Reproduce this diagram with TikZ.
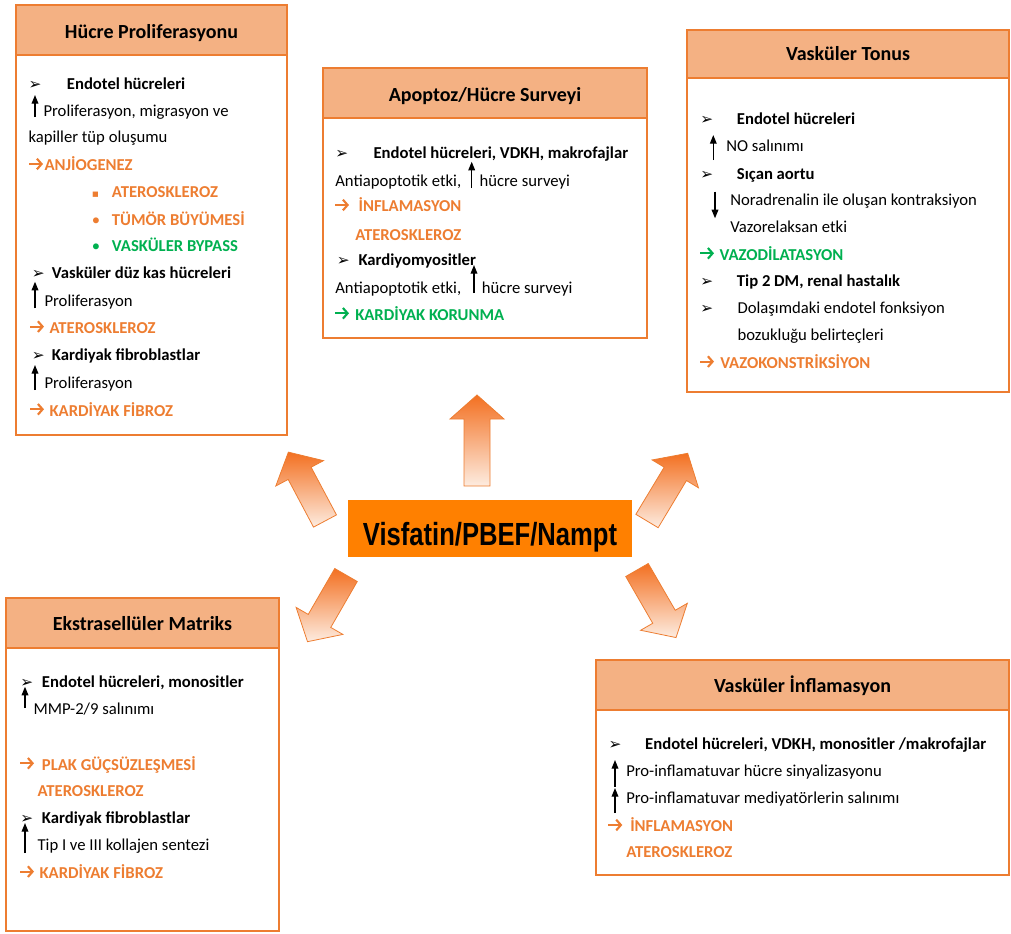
\documentclass[tikz,border=0pt]{standalone}
\usepackage{fontspec}
\usepackage{graphicx}
\setmainfont{Carlito}
\newfontfamily\dingfont{DejaVu Sans}
\newfontfamily\corefont{Liberation Sans}
\usepackage{tikz}
\usetikzlibrary{arrows.meta}

\definecolor{accorange}{RGB}{237,125,49}
\definecolor{headfill}{RGB}{244,177,131}
\definecolor{accgreen}{RGB}{0,176,80}
\definecolor{corefill}{RGB}{255,128,0}
\definecolor{arrowtop}{RGB}{243,112,33}
\definecolor{arrowbot}{RGB}{253,236,224}

\newcommand{\bodyfont}{\fontsize{12.5}{15}\selectfont}
\newcommand{\headfont}{\fontsize{15}{18}\selectfont\bfseries}
\newcommand{\arrowhd}[1]{\makebox[#1][l]{\dingfont\bfseries\fontsize{11.5}{11.5}\selectfont ➢}}
\newcommand{\sqbul}{\makebox[15pt][l]{\dingfont\fontsize{8}{8}\selectfont ▪}}
\newcommand{\dotbul}{\makebox[15pt][l]{\mdseries•}}

\tikzset{
  boxline/.style={draw=accorange, line width=1.1pt},
  headbox/.style={boxline, fill=headfill},
  boxtitle/.style={anchor=base, inner sep=0pt, font=\headfont},
  txt/.style={anchor=base west, inner sep=0pt, font=\bodyfont},
  bld/.style={txt, font=\bodyfont\bfseries},
  outcome/.style={bld, text=accorange},
  goodout/.style={bld, text=accgreen},
  thinup/.style={line width=1pt, -{Triangle[length=6.5pt,width=5pt]}},
  resarrow/.style={line width=1.6pt, -{Straight Barb[length=3.5pt,width=8pt]}},
  fatarrow/.style={draw=accorange, line width=0.6pt, top color=arrowtop, bottom color=arrowbot},
  core/.style={fill=corefill, inner sep=0pt, minimum width=213pt, text height=33.75pt, text depth=9pt,
    font=\corefont\bfseries\fontsize{24}{24}\selectfont},
}

% small marks in the boxes
\newcommand{\uparr}[3]{\draw[thinup] (#1,#2) -- (#1,#3);}
\newcommand{\resarr}[3]{\draw[resarrow, #3] (#1,#2) -- ++(14,0);}
% block arrow: tail, direction, length
\newcommand{\fatarr}[3]{%
  \begin{scope}[shift={#1}, rotate=#2]
    \draw[fatarrow] (0,-13) -- (#3-24,-13) -- (#3-24,-27) -- (#3,0) -- (#3-24,27) -- (#3-24,13) -- (0,13) -- cycle;
  \end{scope}}

\begin{document}
\begin{tikzpicture}[x=0.75pt,y=0.75pt,yscale=-1,xscale=1]
\useasboundingbox (0,0) rectangle (1011,933);

% Center
\node[core] (core) at (490,528.5) {\scalebox{0.8}[1]{Visfatin/PBEF/Nampt}};

% Block arrows
\fatarr{(477,486)}{-90}{91}
\fatarr{(325,521)}{-118}{78}
\fatarr{(647,521)}{-59}{79}
\fatarr{(346,575)}{120}{77}
\fatarr{(637,570)}{60}{78}

% Shape: Rectangle -- Hücre Proliferasyonu
\draw[boxline] (16,5) rectangle (287,435);
\draw[headbox] (16,5) rectangle (287,55);
\node[boxtitle] (hpT) at (151.5,38.3) {Hücre Proliferasyonu};
% Text Node
\draw (28.3,89.3) node[bld] (hp1) {\arrowhd{28.8pt}Endotel hücreleri};
\uparr{35}{117}{95}
\draw (43.3,116) node[txt] (hp2) {Proliferasyon, migrasyon ve};
\draw (28.3,142) node[txt] (hp3) {kapiller tüp oluşumu};
\resarr{29}{164}{accorange}
\draw (44.3,170.7) node[outcome] (hp4) {ANJİOGENEZ};
\draw (91.7,197.3) node[outcome] (hp5) {\sqbul ATEROSKLEROZ};
\draw (91.7,225) node[outcome] (hp6) {\dotbul TÜMÖR BÜYÜMESİ};
\draw (91.7,251.7) node[goodout] (hp7) {\dotbul VASKÜLER BYPASS};
\draw (31.7,278.3) node[bld] (hp8) {\arrowhd{15pt}Vasküler düz kas hücreleri};
\uparr{35}{308.3}{281.7}
\draw (44.3,306) node[txt] (hp9) {Proliferasyon};
\resarr{30}{326.6}{accorange}
\draw (49.3,333.3) node[outcome] (hp10) {ATEROSKLEROZ};
\draw (31.7,360) node[bld] (hp11) {\arrowhd{15pt}Kardiyak fibroblastlar};
\uparr{35}{390}{365}
\draw (44.3,388.3) node[txt] (hp12) {Proliferasyon};
\resarr{30}{409.3}{accorange}
\draw (49.3,416) node[outcome] (hp13) {KARDİYAK FİBROZ};

% Shape: Rectangle -- Apoptoz/Hücre Surveyi
\draw[boxline] (323,68) rectangle (647,338);
\draw[headbox] (323,68) rectangle (647,118);
\node[boxtitle] (apT) at (485,101.7) {Apoptoz/Hücre Surveyi};
% Text Node
\draw (335,158.3) node[bld] (ap1) {\arrowhd{28.7pt}Endotel hücreleri, VDKH, makrofajlar};
\draw (335,186) node[txt] (ap2) {Antiapoptotik etki,};
\uparr{471.7}{188}{161.7}
\draw (479.3,186) node[txt] (ap3) {hücre surveyi};
\resarr{335}{205}{accorange}
\draw (358.3,211.7) node[outcome] (ap4) {İNFLAMASYON};
\draw (355,240) node[outcome] (ap5) {ATEROSKLEROZ};
\draw (336.7,265) node[bld] (ap6) {\arrowhd{16.2pt}Kardiyomyositler};
\draw (335,293.3) node[txt] (ap7) {Antiapoptotik etki,};
\uparr{474}{293}{265}
\draw (481.7,293.3) node[txt] (ap8) {hücre surveyi};
\resarr{335}{313.3}{accgreen}
\draw (355,320) node[goodout] (ap9) {KARDİYAK KORUNMA};

% Shape: Rectangle -- Vasküler Tonus
\draw[boxline] (687,30) rectangle (1009,392);
\draw[headbox] (687,30) rectangle (1009,78);
\node[boxtitle] (vtT) at (848,60) {Vasküler Tonus};
% Text Node
\draw (700,124.3) node[bld] (vt1) {\arrowhd{27.5pt}Endotel hücreleri};
\uparr{713.3}{160}{135}
\draw (726,151) node[txt] (vt2) {NO salınımı};
\draw (700,179) node[bld] (vt3) {\arrowhd{27.5pt}Sıçan aortu};
\uparr{715}{191.7}{218.3}
\draw (730,205) node[txt] (vt4) {Noradrenalin ile oluşan kontraksiyon};
\draw (730,232.3) node[txt] (vt5) {Vazorelaksan etki};
\resarr{700}{253.3}{accgreen}
\draw (719.3,260) node[goodout] (vt6) {VAZODİLATASYON};
\draw (700,286.7) node[bld] (vt7) {\arrowhd{27.5pt}Tip 2 DM, renal hastalık};
\draw (700,313.3) node[txt] (vt8) {\arrowhd{28pt}Dolaşımdaki endotel fonksiyon};
\draw (737.3,340) node[txt] (vt9) {bozukluğu belirteçleri};
\resarr{700}{361.6}{accorange}
\draw (720,368.3) node[outcome] (vt10) {VAZOKONSTRİKSİYON};

% Shape: Rectangle -- Ekstrasellüler Matriks
\draw[boxline] (6,598) rectangle (279,931);
\draw[headbox] (6,598) rectangle (279,648);
\node[boxtitle] (emT) at (142.5,630) {Ekstrasellüler Matriks};
% Text Node
\draw (20,687.3) node[bld] (em1) {\arrowhd{16.3pt}Endotel hücreleri, monositler};
\uparr{25}{708}{686.7}
\draw (33.3,714) node[txt] (em2) {MMP-2/9 salınımı};
\resarr{20}{763.3}{accorange}
\draw (41.7,770) node[outcome] (em3) {PLAK GÜÇSÜZLEŞMESİ};
\draw (37.3,796.7) node[outcome] (em4) {ATEROSKLEROZ};
\draw (20,823.3) node[bld] (em5) {\arrowhd{16.3pt}Kardiyak fibroblastlar};
\uparr{25}{853}{823}
\draw (37.3,850) node[txt] (em6) {Tip I ve III kollajen sentezi};
\resarr{20}{871.6}{accorange}
\draw (39.3,878.3) node[outcome] (em7) {KARDİYAK FİBROZ};

% Shape: Rectangle -- Vasküler İnflamasyon
\draw[boxline] (596,660) rectangle (1009,875);
\draw[headbox] (596,660) rectangle (1009,710);
\node[boxtitle] (viT) at (802.5,692.7) {Vasküler İnflamasyon};
% Text Node
\draw (608.3,749.3) node[bld] (vi1) {\arrowhd{27.5pt}Endotel hücreleri, VDKH, monositler /makrofajlar};
\uparr{615}{786.7}{760}
\draw (626,776.7) node[txt] (vi2) {Pro-inflamatuvar hücre sinyalizasyonu};
\uparr{615}{813}{788}
\draw (626,803.3) node[txt] (vi3) {Pro-inflamatuvar mediyatörlerin salınımı};
\resarr{608.3}{825}{accorange}
\draw (630,831.7) node[outcome] (vi4) {İNFLAMASYON};
\draw (626,857.3) node[outcome] (vi5) {ATEROSKLEROZ};

\end{tikzpicture}
\end{document}
